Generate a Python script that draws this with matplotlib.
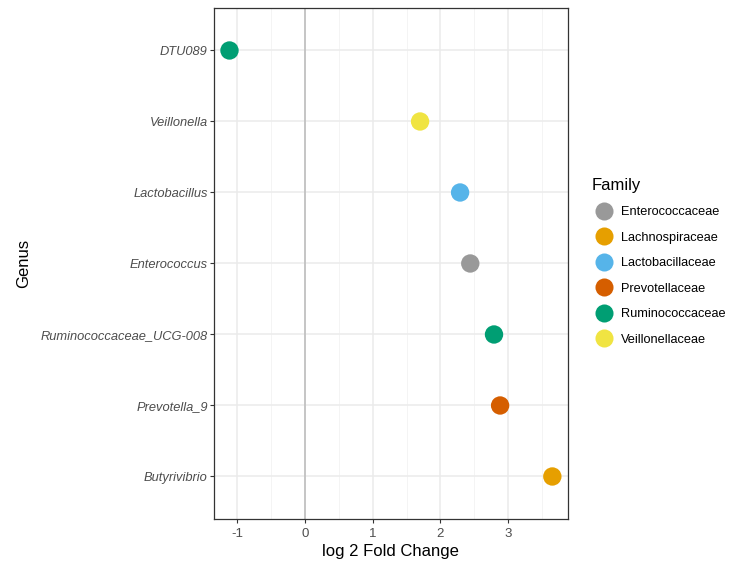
import matplotlib
matplotlib.use("Agg")
import matplotlib.pyplot as plt
from matplotlib.lines import Line2D

plt.rcParams['font.family'] = ['Liberation Sans', 'DejaVu Sans']

genus = ["Butyrivibrio", "Prevotella_9", "Ruminococcaceae_UCG-008", "Enterococcus",
         "Lactobacillus", "Veillonella", "DTU089"]
log2fc = [3.65, 2.88, 2.79, 2.44, 2.29, 1.70, -1.11]
family = ["Lachnospiraceae", "Prevotellaceae", "Ruminococcaceae", "Enterococcaceae",
          "Lactobacillaceae", "Veillonellaceae", "Ruminococcaceae"]

fam_names = ["Enterococcaceae", "Lachnospiraceae", "Lactobacillaceae",
             "Prevotellaceae", "Ruminococcaceae", "Veillonellaceae"]
fam_colors = ["#999999", "#E69F00", "#56B4E9", "#D55E00", "#009E73", "#F0E442"]
cmap = dict(zip(fam_names, fam_colors))

fig = plt.figure(figsize=(7.3, 5.63), dpi=100)
ax = fig.add_axes([0.293, 0.078, 0.485, 0.908])

ypos = list(range(1, len(genus) + 1))
ax.set_xlim(-1.34, 3.88)
ax.set_ylim(0.4, len(genus) + 0.6)

for x in [-1.5, -0.5, 0.5, 1.5, 2.5, 3.5]:
    ax.axvline(x, color="#F2F2F2", lw=0.6, zorder=0)
for x in [-1, 0, 1, 2, 3]:
    ax.axvline(x, color="#EBEBEB", lw=1.1, zorder=0)
for y in ypos:
    ax.axhline(y, color="#EBEBEB", lw=1.1, zorder=0)
ax.axvline(0, color="#BEBEBE", lw=1.2, zorder=1)

ax.scatter(log2fc, ypos, c=[cmap[f] for f in family], s=175, zorder=3, linewidths=0)

ax.set_yticks(ypos)
ax.set_yticklabels(genus, fontstyle="italic", fontsize=9.3, color="#4D4D4D")
ax.set_xticks([-1, 0, 1, 2, 3])
ax.set_xticklabels(["-1", "0", "1", "2", "3"], fontsize=9.5, color="#4D4D4D")
ax.tick_params(length=3, width=0.8, color="#333333")
ax.tick_params(axis="y", pad=1.5)
for sp in ax.spines.values():
    sp.set_color("#333333")
    sp.set_linewidth(0.9)

ax.set_xlabel("log 2 Fold Change", fontsize=12, labelpad=3)
ax.set_ylabel("Genus", fontsize=12, labelpad=6.5)

handles = [Line2D([], [], marker="o", linestyle="", markersize=13,
                  markerfacecolor=c, markeredgewidth=0, label=n)
           for n, c in zip(fam_names, fam_colors)]
leg = fig.legend(handles=handles, title="Family", loc="center left",
                 bbox_to_anchor=(0.803, 0.535), frameon=False, fontsize=9.2,
                 title_fontsize=12, handletextpad=0.3, labelspacing=1.05,
                 borderaxespad=0)
leg._legend_box.align = "left"

fig.savefig("out.png", dpi=100)
